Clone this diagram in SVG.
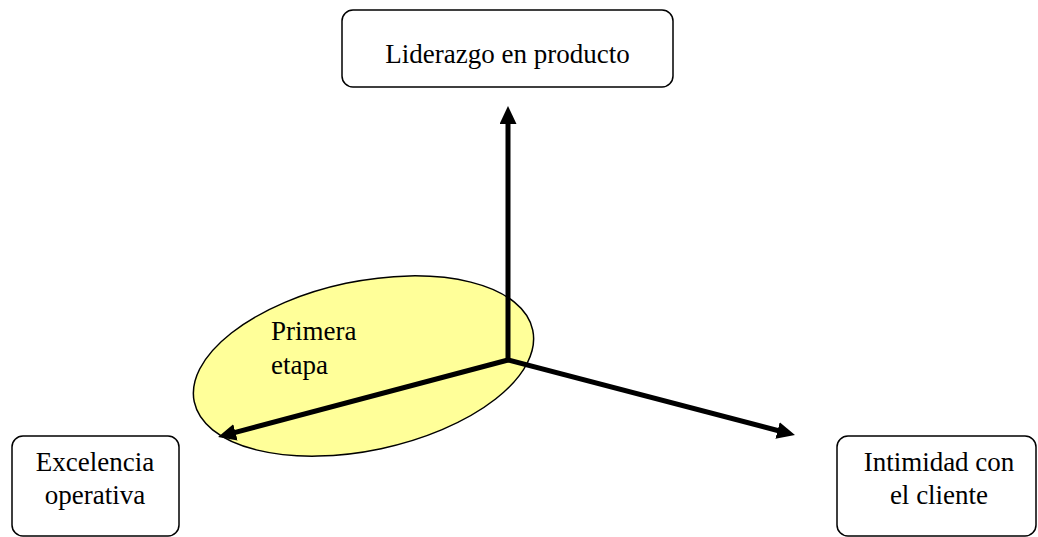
<svg xmlns="http://www.w3.org/2000/svg" width="1038" height="537" viewBox="0 0 1038 537">
  <style>
    .box { fill: #ffffff; stroke: #000000; stroke-width: 1.5; }
    .lbl { font-family: "Liberation Serif", "Times New Roman", serif; font-size: 27px; fill: #000000; }
    .axis { stroke: #000000; stroke-width: 5; fill: none; marker-end: url(#head); }
  </style>
  <defs>
    <marker id="head" markerUnits="userSpaceOnUse" markerWidth="18" markerHeight="18" refX="2" refY="8.5" orient="auto">
      <path d="M0,0 L18,8.5 L0,17 z" fill="#000000"/>
    </marker>
  </defs>
  <rect width="1038" height="537" fill="#ffffff"/>

  <g id="primera-etapa">
    <ellipse cx="363.5" cy="366" rx="173" ry="84.5" transform="rotate(-12 363.5 366)" fill="#ffff99" stroke="#000000" stroke-width="1.5"/>
    <text class="lbl" x="271" y="340">Primera</text>
    <text class="lbl" x="271" y="374">etapa</text>
  </g>

  <g id="connectors">
    <line class="axis" x1="508" y1="362" x2="508" y2="122"/>
    <line class="axis" x1="508" y1="360" x2="233.5" y2="432.9"/>
    <line class="axis" x1="508" y1="360" x2="779.5" y2="431"/>
  </g>

  <g id="liderazgo">
    <rect class="box" x="342" y="10" width="331" height="77" rx="11"/>
    <text class="lbl" x="507.5" y="63" text-anchor="middle">Liderazgo en producto</text>
  </g>

  <g id="excelencia">
    <rect class="box" x="12" y="436" width="167" height="100" rx="11"/>
    <text class="lbl" x="95" y="471" text-anchor="middle">Excelencia</text>
    <text class="lbl" x="95" y="504" text-anchor="middle">operativa</text>
  </g>

  <g id="intimidad">
    <rect class="box" x="837" y="436" width="199" height="100" rx="11"/>
    <text class="lbl" x="939" y="471" text-anchor="middle">Intimidad con</text>
    <text class="lbl" x="939" y="504" text-anchor="middle">el cliente</text>
  </g>
</svg>
